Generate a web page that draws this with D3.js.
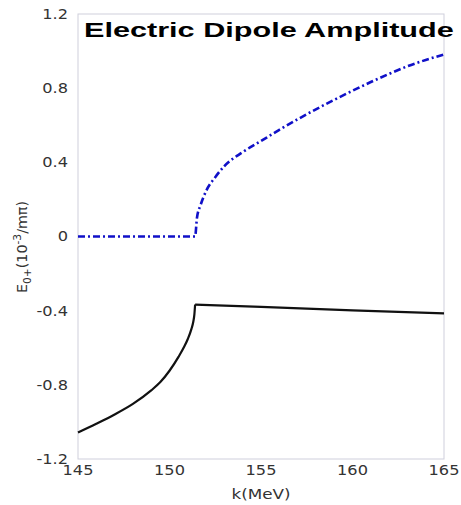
<!DOCTYPE html>
<html>
<head>
<meta charset="utf-8">
<script src="https://cdn.jsdelivr.net/npm/d3@7"></script>
<style>
  html, body { margin: 0; padding: 0; background: #fff; }
  svg { display: block; }
  text { font-family: "DejaVu Sans", Verdana, sans-serif; }
  .title { font-family: "Liberation Sans", Arial, Helvetica, sans-serif; }
</style>
</head>
<body>
<svg id="chart" width="461" height="505"></svg>
<script>
// Photon energy k (MeV) and E0+ real parts (10^-3 / m_pi)
const kBelow = [145, 146, 147, 148, 149, 149.5, 150, 150.5, 150.8, 151.0, 151.2, 151.3, 151.36, 151.4];
const eBelow = [-1.057, -1.01, -0.960, -0.903, -0.830, -0.785, -0.724, -0.648, -0.595, -0.553, -0.498, -0.460, -0.42, -0.367];
const kAbove = [151.4, 155, 160, 165];
const eAbove = [-0.367, -0.38, -0.398, -0.415];

// Dash-dot curve: zero below threshold, rising above it
const kCusp = [145, 151.4, 151.5, 151.7, 152.0, 152.5, 153, 154, 155, 156, 157, 158, 159, 160, 161, 162, 163, 164, 165];
const eCusp = [0, 0, 0.10, 0.17, 0.245, 0.32, 0.38, 0.455, 0.515, 0.575, 0.632, 0.686, 0.737, 0.786, 0.833, 0.877, 0.918, 0.952, 0.982];

const xTicks = [145, 150, 155, 160, 165];
const yTicks = [-1.2, -0.8, -0.4, 0, 0.4, 0.8, 1.2];

const svg = d3.select("#chart");
const plotLeft = 78, plotRight = 444, plotTop = 14, plotBottom = 459;

const x = d3.scaleLinear().domain([145, 165]).range([plotLeft, plotRight]);
const y = d3.scaleLinear().domain([-1.2, 1.2]).range([plotBottom, plotTop]);

// Frame
svg.append("rect")
  .attr("x", plotLeft).attr("y", plotTop)
  .attr("width", plotRight - plotLeft).attr("height", plotBottom - plotTop)
  .attr("fill", "none").attr("stroke", "#cfcfdc").attr("stroke-width", 1);

// Y tick labels
svg.append("g").selectAll("text").data(yTicks).join("text")
  .attr("transform", d => `translate(68,${y(d)}) scale(1.2,1)`)
  .attr("text-anchor", "end").attr("dy", "0.36em")
  .attr("font-size", 13.5).attr("fill", "#333")
  .text(d => d === 0 ? "0" : d.toFixed(1));

// X tick labels
svg.append("g").selectAll("text").data(xTicks).join("text")
  .attr("transform", d => `translate(${x(d)},475) scale(1.2,1)`)
  .attr("text-anchor", "middle")
  .attr("font-size", 13.5).attr("fill", "#333")
  .text(d => d);

// Axis titles
svg.append("text")
  .attr("transform", `translate(261,499) scale(1.2,1)`)
  .attr("text-anchor", "middle").attr("font-size", 14).attr("fill", "#333")
  .text("k(MeV)");

const yl = svg.append("text")
  .attr("transform", `translate(27,247) rotate(-90) scale(1.02,1)`)
  .attr("text-anchor", "middle").attr("font-size", 14).attr("fill", "#333");
yl.append("tspan").text("E");
yl.append("tspan").attr("font-size", 10.5).attr("dy", 4).text("0+");
yl.append("tspan").attr("dy", -4).text("(10");
yl.append("tspan").attr("font-size", 10.5).attr("dy", -6).text("-3");
yl.append("tspan").attr("dy", 6).text("/mπ)");

// Curves
const smooth = d3.line().x(d => x(d[0])).y(d => y(d[1])).curve(d3.curveMonotoneX);
const straight = d3.line().x(d => x(d[0])).y(d => y(d[1]));

svg.append("path")
  .attr("d", smooth(kBelow.map((k, i) => [k, eBelow[i]])))
  .attr("fill", "none").attr("stroke", "#111").attr("stroke-width", 2.2);
svg.append("path")
  .attr("d", straight(kAbove.map((k, i) => [k, eAbove[i]])))
  .attr("fill", "none").attr("stroke", "#111").attr("stroke-width", 2.2);

svg.append("path")
  .attr("d", smooth(kCusp.map((k, i) => [k, eCusp[i]])))
  .attr("fill", "none").attr("stroke", "#1010c8").attr("stroke-width", 2.6)
  .attr("stroke-dasharray", "7,3,2,3");

// Title, widened to span 84..455
const title = svg.append("text").attr("class", "title")
  .attr("font-size", 21).attr("font-weight", "bold").attr("fill", "#000")
  .text("Electric Dipole Amplitude");
const titleLen = title.node().getComputedTextLength();
title.attr("transform", `translate(84,37) scale(${370 / titleLen},1)`);
</script>
</body>
</html>
